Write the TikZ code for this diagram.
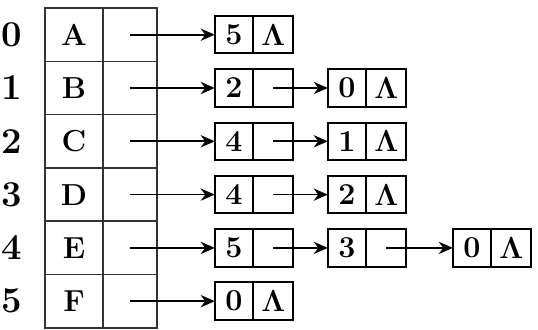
\documentclass[tikz,border=0pt]{standalone}
\usepackage{amsmath,amssymb}
\usepackage{tikz}
\usetikzlibrary{arrows.meta,positioning}

\tikzset{
  casilla/.style={draw=black!80,line width=0.9pt,outer sep=0pt,inner sep=0pt,
    minimum width=1.16cm,minimum height=1.066cm,font=\LARGE\bfseries},
  puntero/.style={casilla,minimum width=1.08cm},
  indice/.style={font=\huge\bfseries},
  dato/.style={draw,line width=1.1pt,outer sep=0pt,inner sep=0pt,
    minimum width=0.77cm,minimum height=0.75cm,font=\LARGE\bfseries},
  enlace/.style={dato,minimum width=0.8cm},
  flecha/.style={->,line width=1pt}
}
\newcommand{\nulo}{$\mathbf{\Lambda}$}

\begin{document}
\begin{tikzpicture}[x=0.02cm,y=-0.02cm,>={Stealth[length=8pt,width=7pt]}]
  \useasboundingbox (0,0) rectangle (538,329);
  % tabla de vertices
  \foreach \i/\nombre in {0/A,1/B,2/C,3/D,4/E,5/F}{
    \node[casilla] (v\i) at (74,{34.7+53.3*\i}) {\nombre};
    \node[puntero,right=0pt of v\i] (p\i) {};
    \node[indice] (idx\i) at (12,{34.7+53.3*\i}) {\i};
  }
  % listas de adyacencia
  \node[dato] (d01) at (234,34.7) {5};
  \node[enlace,right=0pt of d01] (e01) {\nulo};
  \node[dato] (d11) at (234,88) {2};
  \node[enlace,right=0pt of d11] (e11) {};
  \node[dato] (d12) at (347,88) {0};
  \node[enlace,right=0pt of d12] (e12) {\nulo};
  \node[dato] (d21) at (234,141.3) {4};
  \node[enlace,right=0pt of d21] (e21) {};
  \node[dato] (d22) at (347,141.3) {1};
  \node[enlace,right=0pt of d22] (e22) {\nulo};
  \node[dato] (d31) at (234,194.6) {4};
  \node[enlace,right=0pt of d31] (e31) {};
  \node[dato] (d32) at (347,194.6) {2};
  \node[enlace,right=0pt of d32] (e32) {\nulo};
  \node[dato] (d41) at (234,247.9) {5};
  \node[enlace,right=0pt of d41] (e41) {};
  \node[dato] (d42) at (347,247.9) {3};
  \node[enlace,right=0pt of d42] (e42) {};
  \node[dato] (d43) at (472,247.9) {0};
  \node[enlace,right=0pt of d43] (e43) {\nulo};
  \node[dato] (d51) at (234,301.2) {0};
  \node[enlace,right=0pt of d51] (e51) {\nulo};
  % punteros
  \foreach \i in {0,...,5}
    \draw[flecha] (p\i.center) -- (d\i1.west);
  \draw[flecha] (e11.center) -- (d12.west);
  \draw[flecha] (e21.center) -- (d22.west);
  \draw[flecha] (e31.center) -- (d32.west);
  \draw[flecha] (e41.center) -- (d42.west);
  \draw[flecha] (e42.center) -- (d43.west);
\end{tikzpicture}
\end{document}
